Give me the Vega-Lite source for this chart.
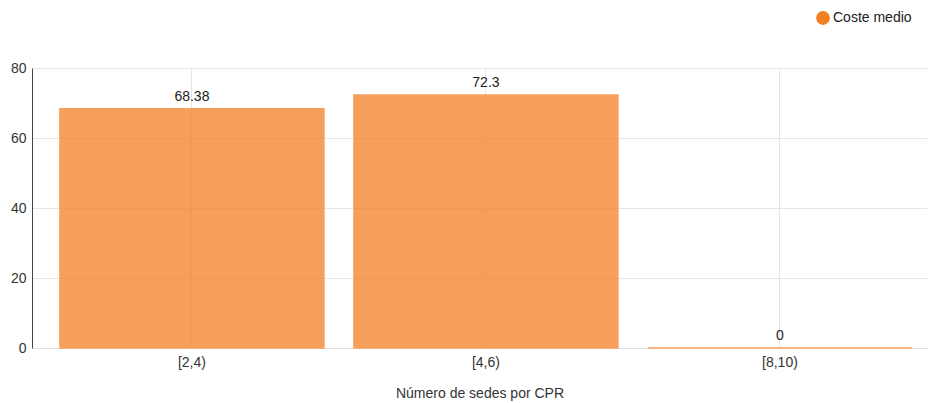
{
  "$schema": "https://vega.github.io/schema/vega-lite/v6.json",
  "width": 895,
  "height": 280,
  "autosize": {"type": "none"},
  "padding": {"left": 32, "top": 68, "right": 4, "bottom": 55},
  "background": "white",
  "config": {
    "view": {"stroke": null},
    "font": "Liberation Sans",
    "axis": {"labelFont": "Liberation Sans", "titleFont": "Liberation Sans"}
  },
  "data": {
    "values": [
      {"rango": "[2,4)", "serie": "Coste medio", "valor": 68.38},
      {"rango": "[4,6)", "serie": "Coste medio", "valor": 72.3},
      {"rango": "[8,10)", "serie": "Coste medio", "valor": 0}
    ]
  },
  "encoding": {
    "x": {
      "field": "rango",
      "type": "nominal",
      "sort": null,
      "scale": {"paddingInner": 0.102, "paddingOuter": 0.073, "align": 0.65},
      "axis": {
        "title": "Número de sedes por CPR",
        "titleFontWeight": "normal",
        "titleFontSize": 14,
        "titleColor": "#333",
        "titlePadding": 17,
        "labelAngle": 0,
        "labelFontSize": 14,
        "labelColor": "#333",
        "labelPadding": 7,
        "ticks": false,
        "domain": true,
        "domainColor": "#e0e0e0",
        "grid": true,
        "gridColor": "#e6e6e6",
        "bandPosition": 0.5
      }
    },
    "y": {
      "field": "valor",
      "type": "quantitative",
      "scale": {"domain": [0, 80]},
      "axis": {
        "title": null,
        "values": [0, 20, 40, 60, 80],
        "labelFontSize": 14,
        "labelColor": "#333",
        "labelPadding": 6,
        "ticks": false,
        "domain": true,
        "domainColor": "#444",
        "gridColor": "#e6e6e6"
      }
    }
  },
  "layer": [
    {
      "mark": {"type": "bar", "fill": "#f37f23", "fillOpacity": 0.75, "stroke": "#f6a060", "strokeWidth": 1.5},
      "encoding": {
        "color": {
          "field": "serie",
          "type": "nominal",
          "scale": {"range": ["#f37f23"]},
          "legend": {
            "title": null,
            "orient": "none",
            "legendX": 784,
            "legendY": -57,
            "symbolType": "circle",
            "symbolSize": 190,
            "symbolOpacity": 1,
            "symbolFillColor": "#f37f23",
            "symbolStrokeWidth": 0,
            "labelFontSize": 14,
            "labelColor": "#222",
            "labelOffset": 3
          }
        }
      }
    },
    {
      "mark": {"type": "text", "dy": -12, "fontSize": 14, "color": "#222"},
      "encoding": {"text": {"field": "valor", "type": "quantitative"}}
    }
  ]
}
